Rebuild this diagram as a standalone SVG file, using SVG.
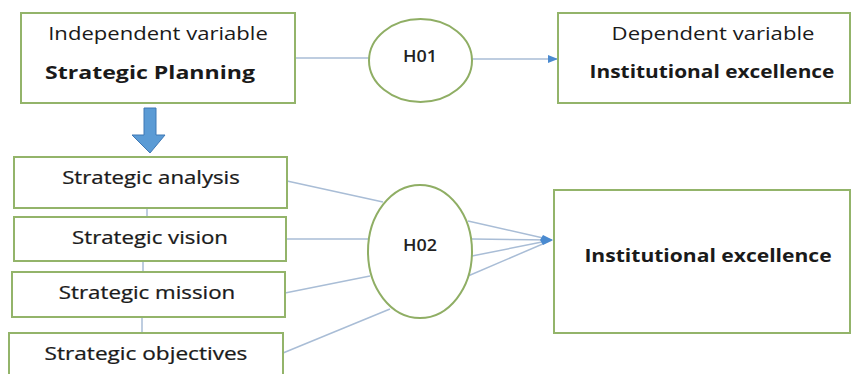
<svg xmlns="http://www.w3.org/2000/svg" width="853" height="374" viewBox="0 0 853 374">
<defs>
<style>
.box{fill:#fff;stroke:#93b46a;stroke-width:2}
.ell{fill:#fff;stroke:#8fae64;stroke-width:2}
.t{font-family:"Open Sans","Noto Sans",sans-serif;font-size:18.5px;fill:#1a1a1a;text-anchor:middle}
.m{font-weight:normal;stroke:#1a1a1a;stroke-width:0.25}
.b{font-weight:bold}
.h{font-family:"Open Sans","Noto Sans",sans-serif;font-size:16px;font-weight:600;fill:#222;text-anchor:middle}
.ln{stroke:#a9bdd6;stroke-width:1.5;fill:none}
</style>
<marker id="ah" markerWidth="10" markerHeight="8" refX="9" refY="4" orient="auto" markerUnits="userSpaceOnUse">
<path d="M0,0 L10,4 L0,8 Z" fill="#4a8ad0"/>
</marker>
</defs>
<rect width="853" height="374" fill="#fff"/>
<g id="connectors">
<line class="ln" x1="295" y1="58" x2="369" y2="58"/>
<line class="ln" x1="472" y1="59" x2="557" y2="59" marker-end="url(#ah)"/>
<line class="ln" x1="147" y1="208" x2="147" y2="217"/>
<line class="ln" x1="143" y1="261" x2="143" y2="272"/>
<line class="ln" x1="142" y1="317" x2="142" y2="333"/>
<line class="ln" x1="287" y1="181" x2="383" y2="202"/>
<line class="ln" x1="286" y1="239" x2="368" y2="239"/>
<line class="ln" x1="285" y1="293" x2="370" y2="276"/>
<line class="ln" x1="283" y1="353" x2="390" y2="309"/>
<line class="ln" x1="468" y1="221" x2="552" y2="240"/>
<line class="ln" x1="472" y1="239" x2="552" y2="240"/>
<line class="ln" x1="472" y1="256" x2="552" y2="240"/>
<line class="ln" x1="468" y1="276" x2="552" y2="240"/>
<path d="M543,235 L553,240 L543,245 L540,240 Z" fill="#4a8ad0"/>
<path d="M144,108 L156,108 L156,135 L165,135 L150,153 L132,135 L144,135 Z" fill="#5b9bd5" stroke="#3f78b5" stroke-width="1"/>
</g>
<g id="independent">
<rect class="box" x="21" y="13" width="274" height="90"/>
<text class="t" transform="translate(158,39.5) scale(1.2,1)" textLength="183" lengthAdjust="spacingAndGlyphs">Independent variable</text>
<text class="t b" transform="translate(150,79) scale(1.2,1)" textLength="175" lengthAdjust="spacingAndGlyphs">Strategic Planning</text>
</g>
<g id="h01">
<ellipse class="ell" cx="420.5" cy="60.5" rx="51.5" ry="41.5"/>
<text class="h" x="420" y="61.5" textLength="34" lengthAdjust="spacingAndGlyphs">H01</text>
</g>
<g id="dependent">
<rect class="box" x="558" y="13" width="292" height="90"/>
<text class="t" transform="translate(713,39.5) scale(1.2,1)" textLength="169" lengthAdjust="spacingAndGlyphs">Dependent variable</text>
<text class="t b" transform="translate(712,78) scale(1.2,1)" textLength="204" lengthAdjust="spacingAndGlyphs">Institutional excellence</text>
</g>
<g id="analysis">
<rect class="box" x="14" y="157" width="273" height="51"/>
<text class="t m" transform="translate(151,184) scale(1.2,1)" textLength="148" lengthAdjust="spacingAndGlyphs">Strategic analysis</text>
</g>
<g id="vision">
<rect class="box" x="14" y="217" width="272" height="44"/>
<text class="t m" transform="translate(150,244) scale(1.2,1)" textLength="130" lengthAdjust="spacingAndGlyphs">Strategic vision</text>
</g>
<g id="mission">
<rect class="box" x="12" y="272" width="273" height="45"/>
<text class="t m" transform="translate(147,298.5) scale(1.2,1)" textLength="147" lengthAdjust="spacingAndGlyphs">Strategic mission</text>
</g>
<g id="objectives">
<rect class="box" x="9" y="333" width="274" height="50"/>
<text class="t m" transform="translate(146,360) scale(1.2,1)" textLength="169" lengthAdjust="spacingAndGlyphs">Strategic objectives</text>
</g>
<g id="h02">
<ellipse class="ell" cx="420" cy="251.5" rx="52" ry="66.5"/>
<text class="h" x="420" y="251" textLength="34" lengthAdjust="spacingAndGlyphs">H02</text>
</g>
<g id="excellence">
<rect class="box" x="554" y="190" width="296" height="143"/>
<text class="t b" transform="translate(708,262) scale(1.2,1)" textLength="206" lengthAdjust="spacingAndGlyphs">Institutional excellence</text>
</g>
</svg>
